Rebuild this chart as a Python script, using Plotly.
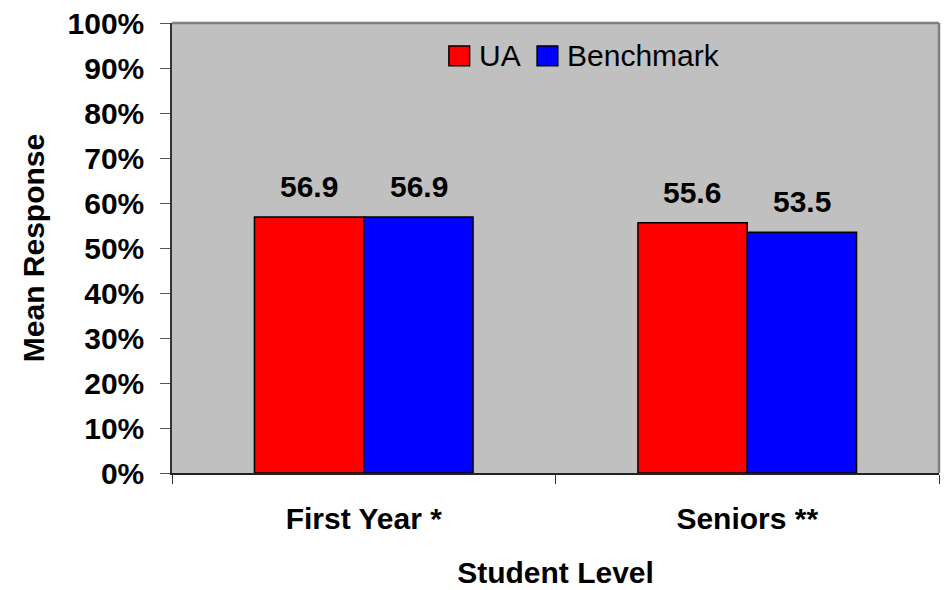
import plotly.graph_objects as go

categories = ["First Year *", "Seniors **"]
ua_values = [56.9, 55.6]
bench_values = [56.9, 53.5]
series_names = ["UA", "Benchmark"]
series_colors = ["#FF0000", "#0000FF"]
y_tick_vals = [0, 10, 20, 30, 40, 50, 60, 70, 80, 90, 100]
y_tick_text = ["0%", "10%", "20%", "30%", "40%", "50%", "60%", "70%", "80%", "90%", "100%"]

FONT = "Liberation Sans, Arial, sans-serif"
FS = 30

fig = go.Figure()
for name, vals, col in zip(series_names, [ua_values, bench_values], series_colors):
    fig.add_trace(go.Bar(x=categories, y=vals, name=name, showlegend=False,
                         marker=dict(color=col, line=dict(color="black", width=1.5))))

# data labels
for i, vals in enumerate([ua_values, bench_values]):
    for j, v in enumerate(vals):
        fig.add_annotation(x=categories[j], y=v, text=f"{v:.1f}", showarrow=False,
                           xref="x", yref="y", yanchor="bottom", yshift=12,
                           xshift=(-55 if i == 0 else 55),
                           font=dict(family=FONT, size=FS, color="black", weight="bold"))

# manual legend (inside plot, top centre)
legend_x = [0.361, 0.476]
for name, col, lx in zip(series_names, series_colors, legend_x):
    fig.add_shape(type="rect", xref="paper", yref="paper",
                  x0=lx, x1=lx + 0.027, y0=0.905, y1=0.949,
                  fillcolor=col, line=dict(color="black", width=1.5))
    fig.add_annotation(xref="paper", yref="paper", x=lx + 0.037, y=0.927,
                       xanchor="left", yanchor="middle", showarrow=False, text=name,
                       font=dict(family=FONT, size=FS, color="black"))

# top and right gray border
fig.add_shape(type="line", xref="paper", yref="paper", x0=0, x1=1, y0=1, y1=1,
              line=dict(color="#808080", width=2.5))
fig.add_shape(type="line", xref="paper", yref="paper", x0=1, x1=1, y0=0, y1=1,
              line=dict(color="#808080", width=2.5))

fig.update_layout(
    width=945, height=590,
    margin=dict(l=172, r=6, t=20, b=115),
    paper_bgcolor="white", plot_bgcolor="#C0C0C0",
    barmode="group", bargap=0.43, bargroupgap=0,
    font=dict(family=FONT, size=FS, color="black"),
    showlegend=False,
    xaxis=dict(showline=True, linecolor="#222222", linewidth=1.5,
               ticks="outside", tickson="boundaries", ticklen=9, tickcolor="#333333",
               tickfont=dict(family=FONT, size=FS, weight="bold"),
               ticklabelstandoff=18,
               title=dict(text="<b>Student Level</b>", font=dict(family=FONT, size=FS), standoff=28)),
    yaxis=dict(range=[0, 100], tickvals=y_tick_vals, ticktext=y_tick_text,
               showgrid=False, zeroline=False,
               showline=True, linecolor="#333333", linewidth=1.5,
               ticks="outside", ticklen=10, tickcolor="#555555",
               tickfont=dict(family=FONT, size=FS, weight="bold"),
               ticklabelstandoff=10,
               title=dict(text="<b>Mean Response</b>", font=dict(family=FONT, size=FS), standoff=14)),
)

fig.write_html("out.html", config={"displayModeBar": False},
               post_script="document.body.style.margin='0';")
